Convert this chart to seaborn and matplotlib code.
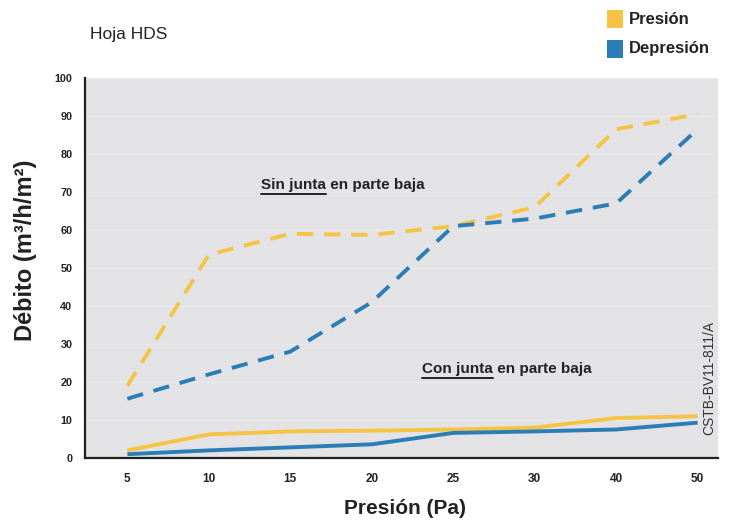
import matplotlib
matplotlib.use("Agg")
import matplotlib.pyplot as plt
import seaborn as sns
import pandas as pd
from matplotlib.lines import Line2D
from matplotlib.patches import Rectangle

# ---- data ----
pressures = ["5", "10", "15", "20", "25", "30", "40", "50"]
presion_sin_junta = [19, 53.5, 59, 58.7, 61, 66, 86.5, 90.5]
depresion_sin_junta = [15.6, 22, 28, 41, 61, 63, 67, 86.5]
presion_con_junta = [2, 6.2, 7, 7.2, 7.5, 8, 10.5, 11]
depresion_con_junta = [1, 2, 2.8, 3.6, 6.6, 7, 7.5, 9.3]

YELLOW = "#f6c445"
BLUE = "#2b7db6"

sns.set_style("white")
plt.rcParams["font.family"] = ["Liberation Sans", "DejaVu Sans"]

W, H = 744, 522
fig = plt.figure(figsize=(W / 100, H / 100), dpi=100)
ax = fig.add_axes([85 / W, 1 - 458 / H, (718 - 85) / W, (458 - 78) / H])
ax.set_facecolor("#e3e3e6")

series = [
    (presion_sin_junta, YELLOW, (4.2, 2.8)),
    (depresion_sin_junta, BLUE, (4.2, 2.8)),
    (presion_con_junta, YELLOW, None),
    (depresion_con_junta, BLUE, None),
]
for vals, col, dash in series:
    df = pd.DataFrame({"p": pressures, "v": vals})
    sns.lineplot(data=df, x="p", y="v", ax=ax, color=col, linewidth=2.8,
                 sort=False)
    line = ax.lines[-1]
    if dash is not None:
        line.set_dashes(dash)
    line.set_solid_capstyle("butt")
    line.set_dash_capstyle("butt")

ax.set_xlim(-0.52, 7.25)
ax.set_ylim(0, 100)
ax.set_yticks(range(0, 101, 10))
ax.set_xticks(range(len(pressures)))
ax.set_xticklabels(pressures)
ax.set_xlabel("")
ax.set_ylabel("")
ax.yaxis.grid(True, color="#e9e9ec", linewidth=1.0)
ax.set_axisbelow(True)

for s in ["top", "right"]:
    ax.spines[s].set_visible(False)
for s in ["left", "bottom"]:
    ax.spines[s].set_color("#222222")
    ax.spines[s].set_linewidth(1.6)

ax.tick_params(axis="y", length=3, width=0.8, pad=6, labelsize=7.8,
               colors="#222222")
ax.tick_params(axis="x", length=0, pad=11, labelsize=8.5, colors="#222222")
for lab in ax.get_xticklabels() + ax.get_yticklabels():
    lab.set_fontweight("bold")

# axis labels
fig.text(26 / W, 1 - 250 / H, "Débito (m³/h/m²)", rotation=90, ha="center",
         va="center", fontsize=17, fontweight="bold", color="#222222")
fig.text(405 / W, 1 - 508 / H, "Presión (Pa)", ha="center", va="center",
         fontsize=15, fontweight="bold", color="#222222")

# title
fig.text(90 / W, 1 - 35 / H, "Hoja HDS", ha="left", va="center", fontsize=12.5,
         color="#222222")

# legend
for yc, col, lab in [(19, YELLOW, "Presión"), (49, BLUE, "Depresión")]:
    fig.patches.append(Rectangle((607 / W, 1 - (yc + 9) / H), 16 / W, 18 / H,
                                 transform=fig.transFigure, facecolor=col,
                                 edgecolor="none"))
    fig.text(629 / W, 1 - yc / H, lab, ha="left", va="center", fontsize=12,
             fontweight="bold", color="#222222")

# side code
fig.text(709 / W, 1 - 378 / H, "CSTB-BV11-811/A", rotation=90, ha="center",
         va="center", fontsize=10, color="#333333")

# annotations with underlined first part
fig.canvas.draw()
renderer = fig.canvas.get_renderer()


def underlined(x_px, y_px, first, rest):
    t1 = fig.text(x_px / W, 1 - y_px / H, first, ha="left", va="center",
                  fontsize=11, fontweight="bold", color="#222222")
    bb = t1.get_window_extent(renderer=renderer)
    fig.text(bb.x1 / W, 1 - y_px / H, " " + rest, ha="left", va="center",
             fontsize=11, fontweight="bold", color="#222222")
    yline = (H - y_px - 9) / H
    fig.lines.append(Line2D([bb.x0 / W, bb.x1 / W], [yline, yline],
                            transform=fig.transFigure, color="#222222",
                            linewidth=1.4))


underlined(261, 185, "Sin junta", "en parte baja")
underlined(422, 369, "Con junta", "en parte baja")

fig.savefig("out.png", dpi=100)
